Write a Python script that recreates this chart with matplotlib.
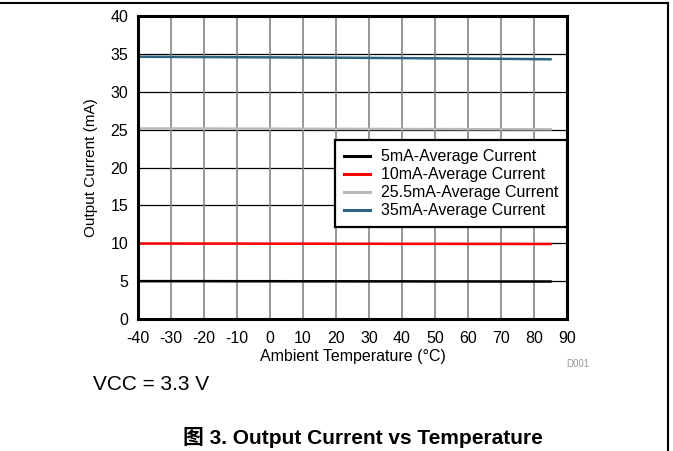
import matplotlib
matplotlib.use('Agg')
import matplotlib.pyplot as plt
from matplotlib.lines import Line2D

plt.rcParams['font.family'] = ['Liberation Sans', 'Noto Sans CJK SC', 'DejaVu Sans']
plt.rcParams['axes.unicode_minus'] = False

# data
temps = [-40, -30, -20, -10, 0, 10, 20, 30, 40, 50, 60, 70, 80, 85]
cur_5ma = [5.00, 5.00, 5.00, 4.99, 4.99, 4.98, 4.98, 4.97, 4.97, 4.96, 4.96, 4.95, 4.95, 4.95]
cur_10ma = [9.96, 9.96, 9.95, 9.95, 9.94, 9.94, 9.93, 9.93, 9.92, 9.92, 9.91, 9.91, 9.90, 9.90]
cur_25ma = [25.15, 25.15, 25.14, 25.13, 25.12, 25.11, 25.10, 25.09, 25.08, 25.07, 25.06, 25.05, 25.04, 25.04]
cur_35ma = [34.62, 34.60, 34.58, 34.56, 34.54, 34.52, 34.50, 34.47, 34.44, 34.41, 34.38, 34.35, 34.31, 34.29]

series_labels = ['5mA-Average Current', '10mA-Average Current',
                 '25.5mA-Average Current', '35mA-Average Current']
series_colors = ['#000000', '#ff0000', '#b8b8b8', '#2e6480']

x_ticks = list(range(-40, 91, 10))
y_ticks = list(range(0, 41, 5))

fig = plt.figure(figsize=(6.73, 4.51), dpi=100)
ax = fig.add_axes([0.205, 0.2927, 0.6375, 0.6718])

for vals, lab, col in zip([cur_5ma, cur_10ma, cur_25ma, cur_35ma], series_labels, series_colors):
    ax.plot(temps, vals, color=col, lw=1.8, label=lab, zorder=3)

ax.set_xlim(-40, 90)
ax.set_ylim(0, 40)
ax.set_xticks(x_ticks)
ax.set_yticks(y_ticks)
ax.tick_params(length=0, labelsize=11.5)
ax.tick_params(axis='x', pad=9)
ax.tick_params(axis='y', pad=7)

# horizontal grid black, vertical grid gray
for y in y_ticks:
    ax.axhline(y, color='black', lw=0.9, zorder=1)
for x in x_ticks:
    ax.axvline(x, color='#858585', lw=1.2, zorder=1)

for s in ax.spines.values():
    s.set_linewidth(2.2)
    s.set_zorder(4)

ax.set_xlabel('Ambient Temperature (°C)', fontsize=11.5, labelpad=2)
ax.set_ylabel('Output Current (mA)', fontsize=11, labelpad=9)

leg = ax.legend(loc='upper right', bbox_to_anchor=(1.0, 0.590), borderaxespad=0,
                fancybox=False, edgecolor='black', fontsize=11.5, handlelength=1.6,
                labelspacing=0.19, borderpad=0.56, handletextpad=0.7, framealpha=1)
leg.get_frame().set_linewidth(1.6)
leg.set_zorder(5)
for h in leg.get_lines():
    h.set_linewidth(2.2)

fig.text(0.859, 0.193, 'D001', fontsize=7, color='#999999', ha='center', va='center')
fig.text(0.138, 0.148, 'VCC = 3.3 V', fontsize=15, ha='left', va='center')
fig.text(0.539, 0.031, '图 3. Output Current vs Temperature', fontsize=15,
         fontweight='bold', ha='center', va='center')

# page frame lines (top and right)
fig.add_artist(Line2D([0, 0.993], [0.993, 0.993], color='black', lw=1.5, transform=fig.transFigure))
fig.add_artist(Line2D([0.993, 0.993], [0, 0.993], color='black', lw=1.5, transform=fig.transFigure))

fig.savefig('out.png', dpi=100)
